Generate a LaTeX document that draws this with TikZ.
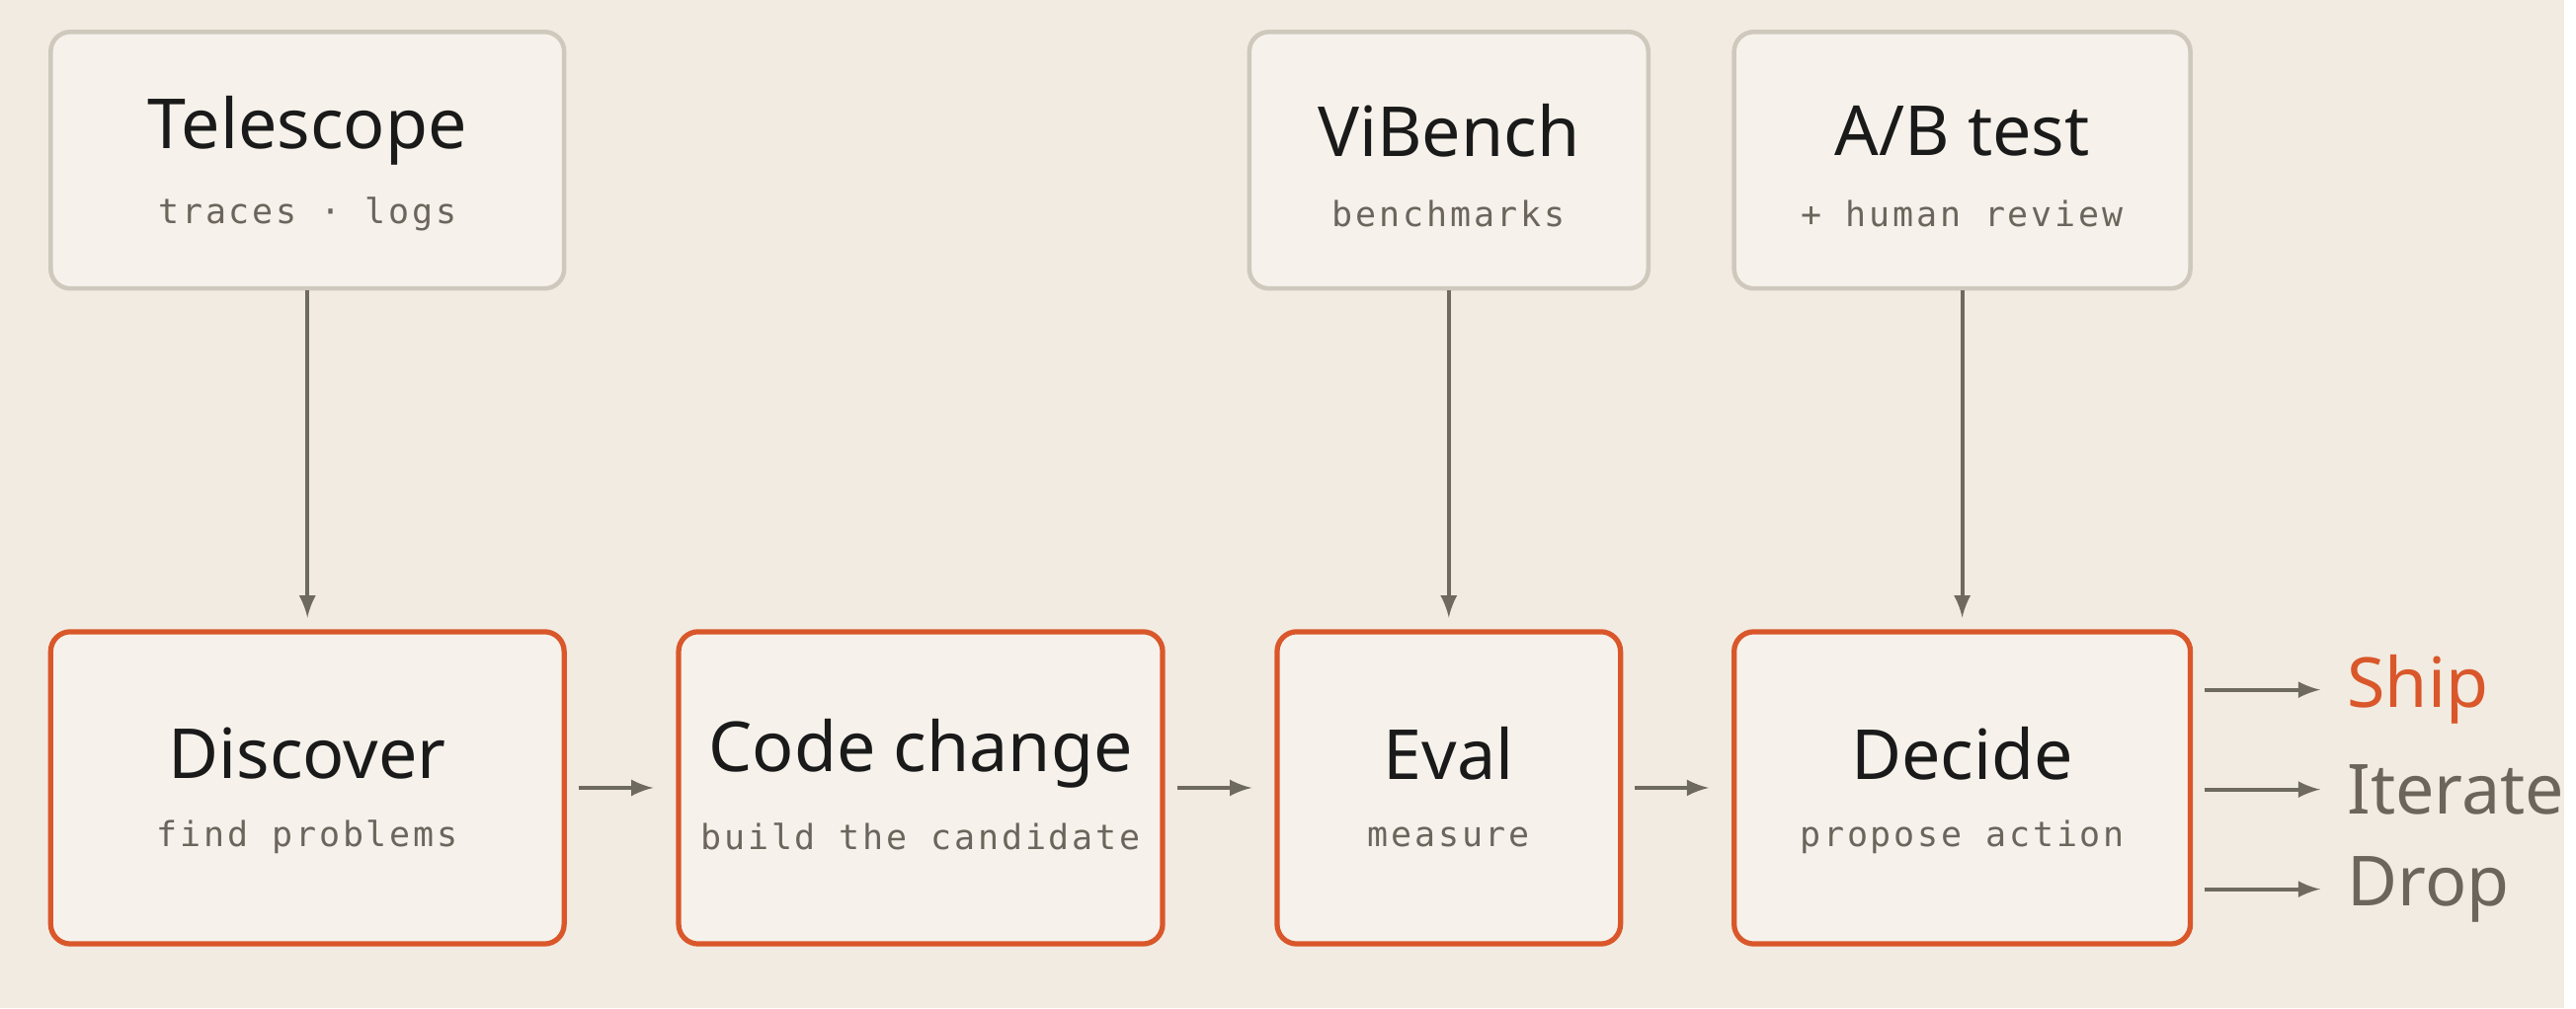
\documentclass[tikz,border=0pt]{standalone}
\usepackage{fontspec}
\setmainfont{Noto Sans}
\newfontfamily\monofont[LetterSpace=8]{DejaVu Sans Mono}
\definecolor{bgc}{HTML}{F2EBE1}
\definecolor{boxfill}{HTML}{F6F2EB}
\definecolor{toolline}{HTML}{CFC8BD}
\definecolor{stepline}{HTML}{D9572A}
\definecolor{arrowc}{HTML}{6E6A60}
\definecolor{titlec}{HTML}{1A1A1A}
\definecolor{subc}{HTML}{6B655C}
\begin{document}
\begin{tikzpicture}[
        x=0.01663cm, y=-0.01663cm,
        tool/.style={draw=toolline, line width=1.3pt, fill=boxfill, rounded corners=0.2cm, align=center, inner sep=0pt},
        stage/.style={draw=stepline, line width=1.5pt, fill=boxfill, rounded corners=0.2cm, align=center, inner sep=0pt},
        flow/.style={->, >=latex, arrowc, line width=1.2pt},
        heading/.style={font=\fontsize{20}{24}\selectfont\bfseries, text=titlec},
        sub/.style={font=\monofont\fontsize{10}{12}\selectfont, text=subc}
    ]
        \fill[bgc] (0,0) rectangle (1568,617);

        % tools
        \node[tool, minimum width=314*0.01663cm, minimum height=157*0.01663cm] (telescope) at (188,98) {};
        \node[tool, minimum width=244*0.01663cm, minimum height=157*0.01663cm] (vibench) at (886,98) {};
        \node[tool, minimum width=279*0.01663cm, minimum height=157*0.01663cm] (abtest) at (1200,98) {};

        % stages
        \node[stage, minimum width=314*0.01663cm, minimum height=191*0.01663cm] (discover) at (188,482) {};
        \node[stage, minimum width=296*0.01663cm, minimum height=191*0.01663cm] (change) at (563,482) {};
        \node[stage, minimum width=210*0.01663cm, minimum height=191*0.01663cm] (eval) at (886,482) {};
        \node[stage, minimum width=279*0.01663cm, minimum height=191*0.01663cm] (decide) at (1200,482) {};

        % labels
        \foreach \n/\x/\y/\t/\s in {telescope/188/80/Telescope/traces · logs, vibench/886/80/ViBench/benchmarks, abtest/1200/80/A\slash B test/+ human review,
            discover/188/461/Discover/find problems, change/563/461/Code change/build the candidate, eval/886/461/Eval/measure, decide/1200/461/Decide/propose action} {
            \node[heading] (\n-t) at (\x,\y) {\t};
            \node[sub] (\n-s) at (\x,\y+51) {\s};
        }

        % inputs
        \draw[flow] (telescope.south) -- ++(0,200);
        \draw[flow] (vibench.south) -- ++(0,200);
        \draw[flow] (abtest.south) -- ++(0,200);

        % pipeline
        \draw[flow] ([xshift=0.12cm]discover.east) -- ([xshift=-0.23cm]change.west);
        \draw[flow] ([xshift=0.12cm]change.east) -- ([xshift=-0.23cm]eval.west);
        \draw[flow] ([xshift=0.12cm]eval.east) -- ([xshift=-0.23cm]decide.west);

        % outcomes
        \node[heading, text=stepline, anchor=west] (ship) at (1428,422) {Ship};
        \node[heading, font=\fontsize{20}{24}\selectfont, text=subc, anchor=west] (iterate) at (1428,483) {Iterate};
        \node[heading, font=\fontsize{20}{24}\selectfont, text=subc, anchor=west] (drop) at (1428,544) {Drop};
        \coordinate (out1) at (1348,422);
        \coordinate (out2) at (1348,483);
        \coordinate (out3) at (1348,544);
        \draw[flow, shorten >=0.15cm] (out1) -- (ship.west);
        \draw[flow, shorten >=0.15cm] (out2) -- (iterate.west);
        \draw[flow, shorten >=0.15cm] (out3) -- (drop.west);
    \end{tikzpicture}
\end{document}
